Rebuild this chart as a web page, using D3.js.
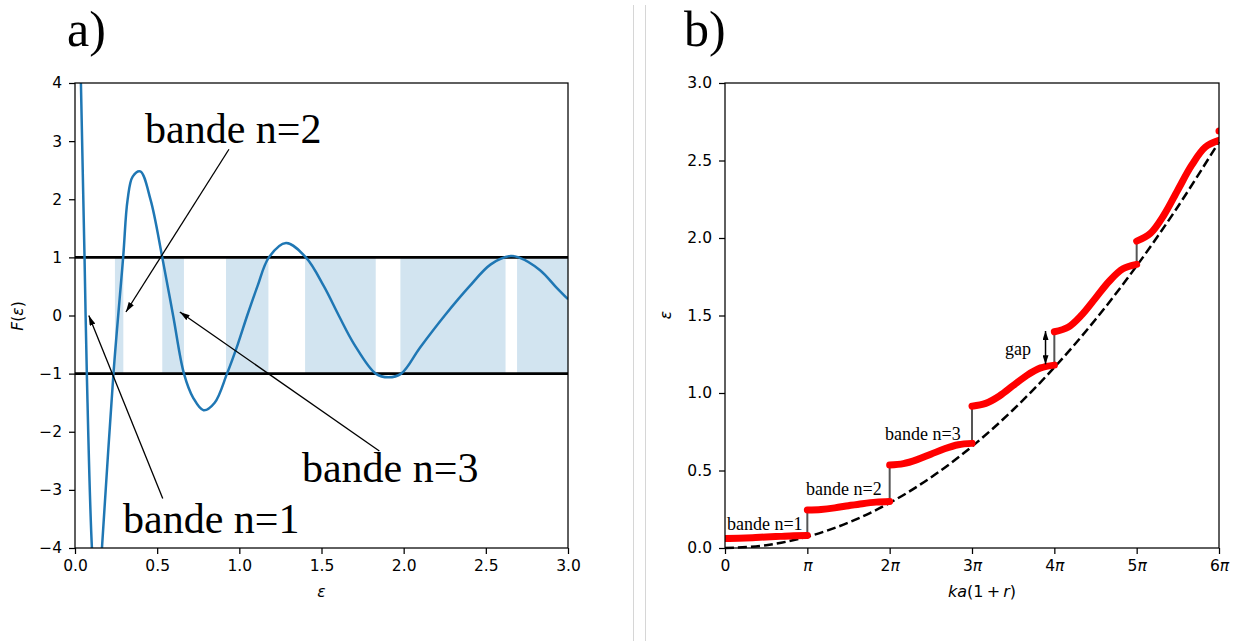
<!DOCTYPE html>
<html>
<head>
<meta charset="utf-8">
<script src="https://cdn.jsdelivr.net/npm/d3@7"></script>
<style>
  body { margin: 0; background: #fff; }
  svg text { font-family: "DejaVu Sans", sans-serif; }
  .serif { font-family: "Liberation Serif", "DejaVu Serif", serif; }
</style>
</head>
<body>
<svg width="1240" height="641"></svg>
<script>
// ---------- panel a) : F(eps)
var epsA = [0.02, 0.036, 0.058, 0.072, 0.103, 0.133, 0.164, 0.234, 0.293, 0.32, 0.351, 0.397, 0.46,
            0.531, 0.597, 0.663, 0.72, 0.782, 0.85, 0.925, 0.99, 1.048, 1.11, 1.18, 1.284, 1.405,
            1.515, 1.605, 1.70, 1.83, 1.907, 1.985, 2.10, 2.25, 2.40, 2.53, 2.651, 2.70, 2.83, 2.93, 3.0];
var fA   = [9, 4.0, 1.0, -1.0, -4.0, -5.2, -4.0, -1.0, 1.0, 1.99, 2.39, 2.48, 1.99,
            1.0, 0.0, -1.0, -1.42, -1.63, -1.50, -1.0, -0.5, 0.0, 0.5, 1.0, 1.247, 1.0,
            0.5, 0.0, -0.5, -1.0, -1.064, -1.0, -0.55, 0.0, 0.5, 0.88, 1.024, 1.0, 0.78, 0.48, 0.28];
var bandLo = [0.243, 0.531, 0.919, 1.40, 1.98, 2.69];
var bandHi = [0.294, 0.663, 1.177, 1.83, 2.62, 3.0];
var xTicksA = [0, 0.5, 1, 1.5, 2, 2.5, 3];
var yTicksA = [-4, -3, -2, -1, 0, 1, 2, 3, 4];
var labelsA = ["bande n=1", "bande n=2", "bande n=3"];
var labelPosA = [[0.292, -3.75], [0.426, 2.97], [1.381, -2.86]];
var arrowFromA = [[0.534, -3.15], [0.937, 2.86], [1.852, -2.33]];
var arrowToA = [[0.084, 0.0], [0.31, 0.06], [0.638, 0.06]];

// ---------- panel b) : bands eps(k), k in units of pi
var bandK0 = [0, 1, 2, 3, 4, 5];
var bandSteps = [0, 1/6, 2/6, 3/6, 4/6, 5/6, 1];
var bandEps = [
  [0.062, 0.063, 0.066, 0.071, 0.075, 0.079, 0.080],
  [0.245, 0.249, 0.259, 0.273, 0.286, 0.296, 0.300],
  [0.535, 0.544, 0.570, 0.605, 0.640, 0.666, 0.675],
  [0.915, 0.933, 0.981, 1.048, 1.114, 1.162, 1.180],
  [1.395, 1.424, 1.504, 1.612, 1.721, 1.801, 1.830],
  [1.980, 2.030, 2.150, 2.310, 2.468, 2.586, 2.630]
];
var freeK = [0, 0.5, 1, 1.5, 2, 2.5, 3, 3.5, 4, 4.5, 5, 5.5, 6];
var freeEps = [0, 0.018, 0.073, 0.164, 0.291, 0.455, 0.655, 0.892, 1.165, 1.474, 1.82, 2.202, 2.62];
var nextBand = [6, 2.69];
var xTickLabelsB = ["0", "π", "2π", "3π", "4π", "5π", "6π"];
var yTicksB = [0, 0.5, 1, 1.5, 2, 2.5, 3];
var labelsB = ["bande n=1", "bande n=2", "bande n=3", "gap"];
var labelPosB = [[0.024, 0.116], [0.984, 0.342], [1.944, 0.70], [3.40, 1.243]];
var gapK = 3.893, gapEps = [1.185, 1.40];

var svg = d3.select("svg");

var defs = svg.append("defs");
function head(id, len, wid) {
  defs.append("marker")
    .attr("id", id)
    .attr("viewBox", "0 0 " + len + " " + wid)
    .attr("refX", len).attr("refY", wid / 2)
    .attr("markerUnits", "userSpaceOnUse")
    .attr("markerWidth", len).attr("markerHeight", wid)
    .attr("orient", "auto-start-reverse")
    .append("path").attr("d", "M0,0 L" + len + "," + (wid / 2) + " L0," + wid + " Z").attr("fill", "#000");
}
head("arr", 10, 6);
head("arrGap", 9, 6);

// separator lines
svg.append("line").attr("x1", 633.5).attr("x2", 633.5).attr("y1", 5).attr("y2", 641)
  .attr("stroke", "#d6d6d6").attr("stroke-width", 1);
svg.append("line").attr("x1", 645.5).attr("x2", 645.5).attr("y1", 5).attr("y2", 641)
  .attr("stroke", "#d6d6d6").attr("stroke-width", 1);

function styleAxis(g) {
  g.selectAll("path.domain").remove();
  g.selectAll(".tick line").attr("stroke", "#000").attr("stroke-width", 1.25);
  g.selectAll(".tick text").attr("fill", "#000")
    .style("font-family", "'DejaVu Sans', sans-serif").style("font-size", "15.5px");
  g.attr("font-size", null).attr("font-family", null);
}

// ================= panel a
var xa = d3.scaleLinear().domain([0, 3]).range([75, 568]);
var ya = d3.scaleLinear().domain([-4, 4]).range([548, 83]);

defs.append("clipPath").attr("id", "clipA").append("rect")
  .attr("x", 75).attr("y", 83).attr("width", 493).attr("height", 465);

var ga = svg.append("g");

ga.selectAll(".band").data(bandLo).enter().append("rect")
  .attr("x", function(d) { return xa(d); })
  .attr("width", function(d, i) { return xa(bandHi[i]) - xa(d); })
  .attr("y", ya(1)).attr("height", ya(-1) - ya(1))
  .attr("fill", "#1f77b4").attr("fill-opacity", 0.2);

ga.selectAll(".hl").data([1, -1]).enter().append("line")
  .attr("x1", xa(0)).attr("x2", xa(3))
  .attr("y1", function(d) { return ya(d); }).attr("y2", function(d) { return ya(d); })
  .attr("stroke", "#000").attr("stroke-width", 2.6);

var lineA = d3.line()
  .x(function(d, i) { return xa(epsA[i]); })
  .y(function(d) { return ya(d); })
  .curve(d3.curveCatmullRom.alpha(0.5));

ga.append("path").datum(fA)
  .attr("clip-path", "url(#clipA)")
  .attr("fill", "none").attr("stroke", "#1f77b4").attr("stroke-width", 2.5)
  .attr("d", lineA);

ga.append("rect").attr("x", 75).attr("y", 83).attr("width", 493).attr("height", 465)
  .attr("fill", "none").attr("stroke", "#000").attr("stroke-width", 1.25);

var axA = ga.append("g").attr("transform", "translate(0,548)")
  .call(d3.axisBottom(xa).tickValues(xTicksA).tickFormat(d3.format(".1f")).tickSize(6).tickPadding(6));
styleAxis(axA);
var ayA = ga.append("g").attr("transform", "translate(75,0)")
  .call(d3.axisLeft(ya).tickValues(yTicksA).tickFormat(d3.format("d")).tickSize(6).tickPadding(7));
styleAxis(ayA);

ga.append("text").attr("x", 321.5).attr("y", 597).attr("text-anchor", "middle")
  .style("font-size", "15.5px").style("font-style", "italic").text("ε");
var fl = ga.append("text").attr("transform", "translate(23,316) rotate(-90)")
  .attr("text-anchor", "middle").style("font-size", "15.5px");
fl.append("tspan").style("font-style", "italic").text("F");
fl.append("tspan").text("(");
fl.append("tspan").style("font-style", "italic").text("ε");
fl.append("tspan").text(")");

ga.selectAll(".arrA").data(arrowFromA).enter().append("line")
  .attr("x1", function(d) { return xa(d[0]); }).attr("y1", function(d) { return ya(d[1]); })
  .attr("x2", function(d, i) { return xa(arrowToA[i][0]); })
  .attr("y2", function(d, i) { return ya(arrowToA[i][1]); })
  .attr("stroke", "#000").attr("stroke-width", 1.3).attr("marker-end", "url(#arr)");

ga.selectAll(".labA").data(labelsA).enter().append("text")
  .attr("class", "serif")
  .attr("x", function(d, i) { return xa(labelPosA[i][0]); })
  .attr("y", function(d, i) { return ya(labelPosA[i][1]); })
  .style("font-size", "42px").text(function(d) { return d; });

svg.append("text").attr("class", "serif").attr("x", 67).attr("y", 46)
  .style("font-size", "50px").text("a)");

// ================= panel b
var xb = d3.scaleLinear().domain([0, 6]).range([725, 1219]);
var yb = d3.scaleLinear().domain([0, 3]).range([548, 83]);

defs.append("clipPath").attr("id", "clipB").append("rect")
  .attr("x", 725).attr("y", 83).attr("width", 494).attr("height", 465);

var gb = svg.append("g");

var freeLine = d3.line()
  .x(function(d, i) { return xb(freeK[i]); })
  .y(function(d) { return yb(d); })
  .curve(d3.curveCatmullRom);
gb.append("path").datum(freeEps)
  .attr("fill", "none").attr("stroke", "#000").attr("stroke-width", 2.5)
  .attr("stroke-dasharray", "9,4").attr("d", freeLine);

// vertical connectors between bands
gb.selectAll(".conn").data(bandK0.slice(1)).enter().append("line")
  .attr("x1", function(d) { return xb(d); }).attr("x2", function(d) { return xb(d); })
  .attr("y1", function(d, i) { return yb(bandEps[i][6]); })
  .attr("y2", function(d, i) { return yb(bandEps[i + 1][0]); })
  .attr("stroke", "#555").attr("stroke-width", 2);

var bandLine = d3.line()
  .x(function(d) { return xb(d[0]); })
  .y(function(d) { return yb(d[1]); })
  .curve(d3.curveCatmullRom.alpha(0.5));
gb.selectAll(".bandB").data(bandEps).enter().append("path")
  .attr("clip-path", "url(#clipB)")
  .attr("fill", "none").attr("stroke", "#ff0000").attr("stroke-width", 7)
  .attr("stroke-linecap", "round")
  .attr("d", function(d, i) {
    return bandLine(d.map(function(v, j) { return [bandK0[i] + bandSteps[j], v]; }));
  });
gb.append("circle").attr("cx", xb(nextBand[0])).attr("cy", yb(nextBand[1])).attr("r", 3.5)
  .attr("fill", "#ff0000").attr("clip-path", "url(#clipB)");

gb.append("rect").attr("x", 725).attr("y", 83).attr("width", 494).attr("height", 465)
  .attr("fill", "none").attr("stroke", "#000").attr("stroke-width", 1.25);

var axB = gb.append("g").attr("transform", "translate(0,548)")
  .call(d3.axisBottom(xb).tickValues(d3.range(7))
    .tickFormat(function(d, i) { return xTickLabelsB[i]; }).tickSize(6).tickPadding(6));
styleAxis(axB);
axB.selectAll(".tick text").each(function(d, i) {
  var t = d3.select(this), s = xTickLabelsB[i];
  t.text(null);
  var num = s.replace("π", "");
  if (num) t.append("tspan").text(num);
  if (s.indexOf("π") >= 0) t.append("tspan").style("font-style", "italic").text("π");
});
var ayB = gb.append("g").attr("transform", "translate(725,0)")
  .call(d3.axisLeft(yb).tickValues(yTicksB).tickFormat(d3.format(".1f")).tickSize(6).tickPadding(7));
styleAxis(ayB);

var kl = gb.append("text").attr("x", 982).attr("y", 597).attr("text-anchor", "middle")
  .style("font-size", "16px");
kl.append("tspan").style("font-style", "italic").text("ka");
kl.append("tspan").text("(1\u2009+\u2009");
kl.append("tspan").style("font-style", "italic").text("r");
kl.append("tspan").text(")");
gb.append("text").attr("transform", "translate(671,315) rotate(-90)")
  .attr("text-anchor", "middle").style("font-size", "15.5px").style("font-style", "italic").text("ε");

gb.append("line")
  .attr("x1", xb(gapK)).attr("x2", xb(gapK))
  .attr("y1", yb(gapEps[0])).attr("y2", yb(gapEps[1]))
  .attr("stroke", "#000").attr("stroke-width", 1.5)
  .attr("marker-start", "url(#arrGap)").attr("marker-end", "url(#arrGap)");

gb.selectAll(".labB").data(labelsB).enter().append("text")
  .attr("class", "serif")
  .attr("x", function(d, i) { return xb(labelPosB[i][0]); })
  .attr("y", function(d, i) { return yb(labelPosB[i][1]); })
  .style("font-size", "18px").text(function(d) { return d; });

svg.append("text").attr("class", "serif").attr("x", 684).attr("y", 46)
  .style("font-size", "50px").text("b)");
</script>
</body>
</html>
